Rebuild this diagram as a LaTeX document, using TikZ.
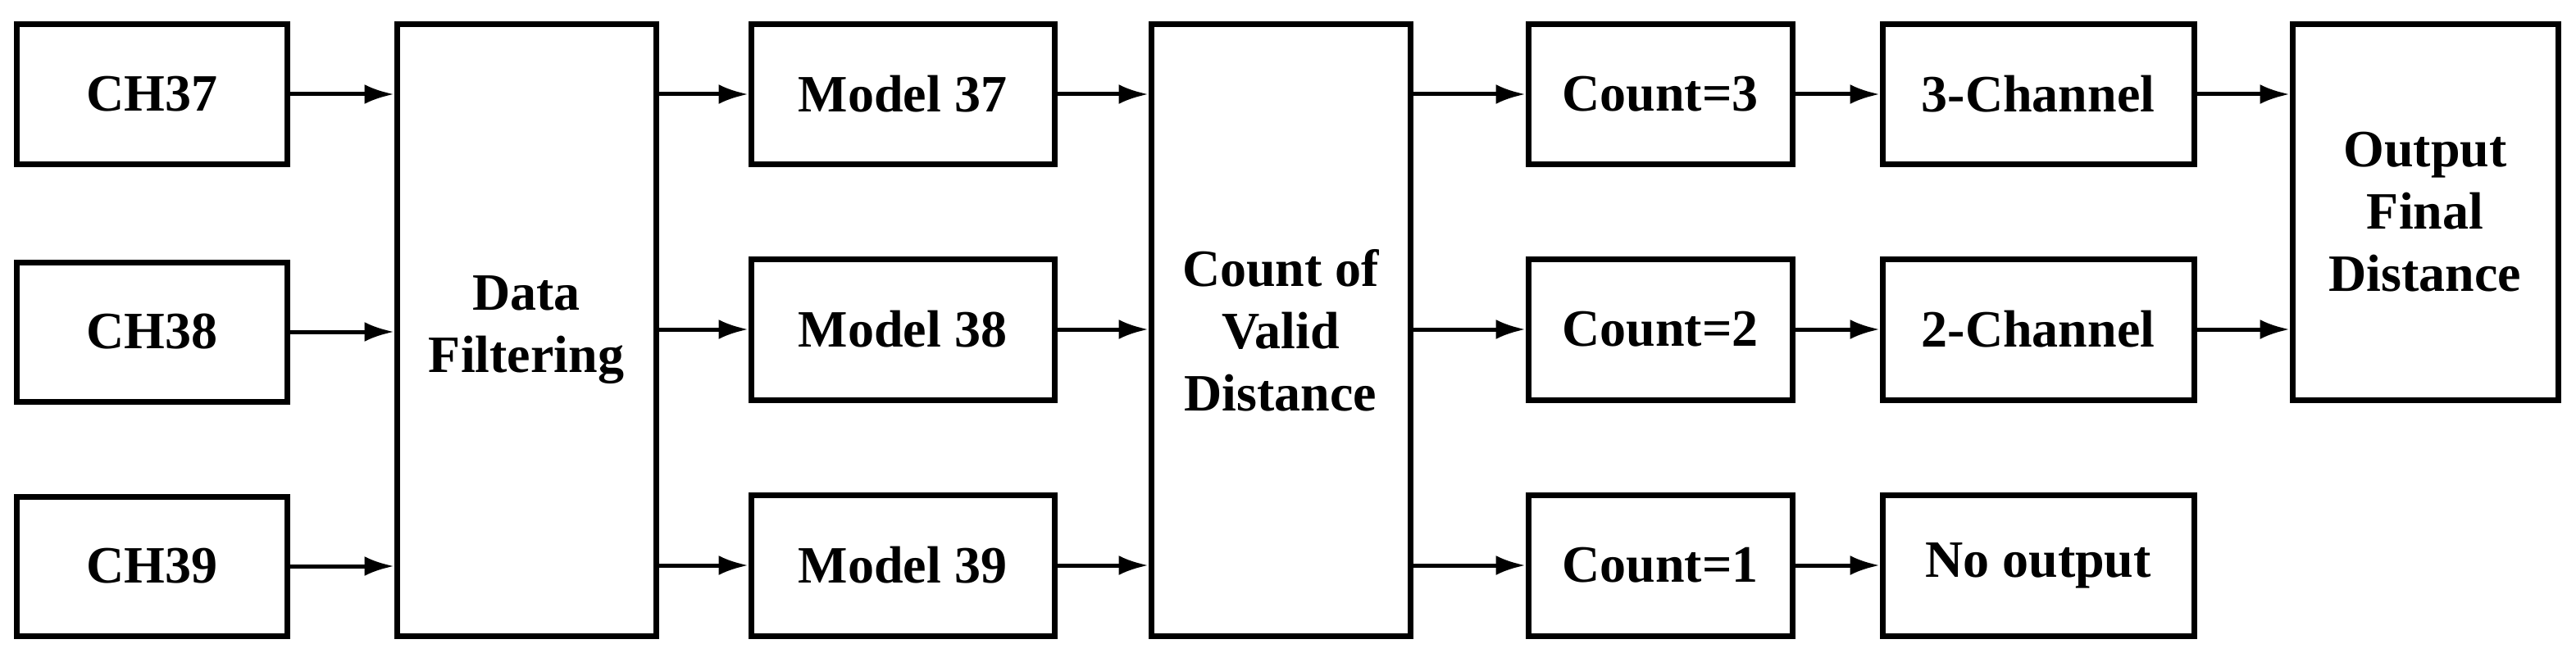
\documentclass[tikz,border=0pt]{standalone}
\usepackage{fontspec}
\setmainfont{Liberation Serif}
\usetikzlibrary{arrows.meta}
\begin{document}
\begin{tikzpicture}[x=1pt,y=-1pt,
  bx/.style={draw,line width=3.5pt,inner sep=0pt,font=\fontsize{32}{38}\selectfont\bfseries,align=center},
  ar/.style={line width=2.5pt,-{Latex[length=18pt,width=12pt]}}]
\useasboundingbox (0,0) rectangle (1571,398.5);
\newcommand\bxat[6]{\node[bx,minimum width=#4-#2,minimum height=#5-#3] (#1) at ({(#2+#4)/2},{(#3+#5)/2}) {#6};}
\bxat{ch37}{10}{15}{175}{100}{CH37}
\bxat{ch38}{10}{160}{175}{245}{CH38}
\bxat{ch39}{10}{303}{175}{388}{CH39}
\bxat{df}{242}{15}{400}{388}{Data\\Filtering}
\bxat{m37}{458}{15}{643}{100}{Model 37}
\bxat{m38}{458}{158}{643}{244}{Model 38}
\bxat{m39}{458}{302}{643}{388}{Model 39}
\bxat{cv}{702}{15}{860}{388}{Count of\\Valid\\Distance}
\bxat{c3}{932}{15}{1093}{100}{Count=3}
\bxat{c2}{932}{158}{1093}{244}{Count=2}
\bxat{c1}{932}{302}{1093}{388}{Count=1}
\bxat{k3}{1148}{15}{1338}{100}{3-Channel}
\bxat{k2}{1148}{158}{1338}{244}{2-Channel}
\bxat{no}{1148}{302}{1338}{388}{No output}
\bxat{out}{1398}{15}{1560}{244}{Output\\Final\\Distance}
\foreach \a/\b in {ch37/df,ch38/df,ch39/df}{\draw[ar] (\a.east) -- (\a.east -| df.west);}
\foreach \b in {m37,m38,m39}{\draw[ar] (\b.west -| df.east) -- (\b.west);
  \draw[ar] (\b.east) -- (\b.east -| cv.west);}
\foreach \b in {c3,c2,c1}{\draw[ar] (\b.west -| cv.east) -- (\b.west);}
\draw[ar] (c3) -- (k3); \draw[ar] (c2) -- (k2); \draw[ar] (c1) -- (no);
\draw[ar] (k3.east) -- (k3.east -| out.west);
\draw[ar] (k2.east) -- (k2.east -| out.west);
\end{tikzpicture}
\end{document}
